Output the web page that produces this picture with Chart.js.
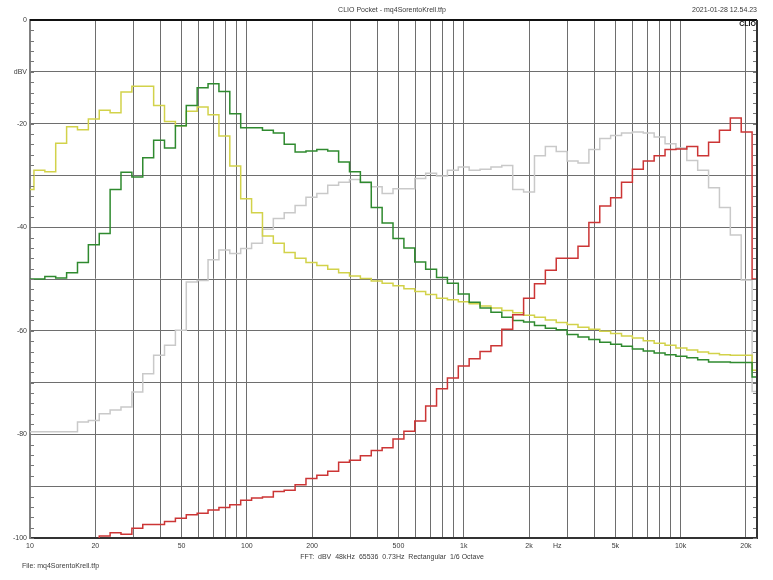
<!DOCTYPE html>
<html><head><meta charset="utf-8">
<script src="https://cdn.jsdelivr.net/npm/chart.js@4/dist/chart.umd.min.js"></script>
<style>html,body{margin:0;padding:0;background:#fff;}#wrap{width:773px;height:580px;}</style>
</head><body><div id="wrap"><canvas id="c" width="773" height="580"></canvas></div>
<script>
// 1/6-octave band centres (Hz)
const bandCentersHz = [9.84,11.05,12.40,13.92,15.63,17.54,19.69,22.10,24.80,27.84,31.25,35.08,39.37,44.19,49.61,55.68,62.50,70.15,78.75,88.39,99.21,111.4,125.0,140.3,157.5,176.8,198.4,222.7,250.0,280.6,315.0,353.6,396.9,445.4,500.0,561.2,630.0,707.1,793.7,890.9,1000,1122,1260,1414,1587,1782,2000,2245,2520,2828,3175,3564,4000,4490,5040,5657,6350,7127,8000,8980,10079,11314,12699,14254,16000,17959,20159,22627];

const yellowDbv = [-32.7,-29.0,-29.3,-23.8,-20.6,-21.2,-19.1,-17.4,-17.9,-13.9,-12.8,-12.8,-16.5,-19.6,-20.4,-17.6,-16.8,-18.3,-22.4,-28.2,-34.5,-37.2,-41.7,-43.1,-44.9,-46.0,-46.8,-47.4,-48.1,-48.8,-49.4,-49.9,-50.4,-50.8,-51.3,-51.9,-52.4,-53.0,-53.7,-54.0,-54.4,-54.8,-55.2,-55.6,-56.1,-56.5,-57.0,-57.4,-57.9,-58.4,-58.8,-59.3,-59.7,-60.1,-60.5,-61.0,-61.4,-61.9,-62.4,-62.8,-63.3,-63.7,-64.1,-64.4,-64.6,-64.7,-64.7,-67.6];

const greenDbv = [-50.0,-50.0,-49.5,-49.8,-48.8,-46.8,-43.4,-41.2,-32.7,-29.4,-30.3,-26.6,-23.2,-24.7,-20.4,-16.5,-13.1,-12.3,-13.8,-18.1,-20.8,-20.8,-21.3,-21.8,-24.0,-25.5,-25.3,-25.0,-25.3,-27.4,-29.3,-31.3,-36.2,-39.2,-42.2,-44.0,-46.7,-48.1,-49.7,-50.8,-52.9,-54.5,-55.6,-56.4,-57.4,-58.0,-58.3,-59.0,-59.5,-59.8,-60.7,-61.2,-61.7,-62.2,-62.6,-63.0,-63.5,-63.9,-64.3,-64.6,-64.9,-65.2,-65.6,-66.0,-66.0,-66.1,-66.1,-68.9];

const grayDbv = [-79.5,-79.5,-79.5,-79.5,-79.5,-77.6,-77.3,-76.0,-75.3,-74.7,-71.8,-68.3,-64.7,-62.8,-59.9,-50.6,-50.3,-46.3,-44.4,-45.1,-44.1,-43.1,-40.4,-38.3,-37.2,-35.8,-34.2,-33.5,-31.9,-31.3,-30.8,-31.4,-32.2,-33.5,-32.6,-32.6,-30.6,-29.6,-30.1,-29.0,-28.4,-29.0,-28.8,-28.4,-28.1,-32.7,-33.2,-26.2,-24.4,-25.4,-27.2,-27.6,-25.0,-22.9,-22.3,-21.8,-21.6,-21.8,-22.6,-23.9,-24.7,-27.1,-29.0,-32.4,-36.2,-41.5,-50.2,-71.7];

const redDbv = [null,null,null,null,null,null,-101.5,-99.6,-99.0,-99.3,-98.1,-97.4,-97.4,-96.8,-96.2,-95.5,-95.2,-94.6,-94.1,-93.6,-92.7,-92.3,-92.1,-91.0,-90.8,-89.7,-88.5,-87.9,-87.1,-85.4,-85.0,-84.1,-83.1,-82.6,-80.9,-79.4,-77.4,-74.5,-71.2,-69.1,-66.8,-65.4,-64.0,-62.9,-59.7,-56.9,-53.7,-50.9,-48.3,-46.0,-46.0,-43.7,-39.1,-35.9,-34.3,-31.3,-28.8,-27.2,-26.2,-25.0,-24.9,-24.4,-26.2,-23.6,-21.3,-18.9,-21.6,-50.0];

const xGridValues = [10,20,30,40,50,60,70,80,90,100,200,300,400,500,600,700,800,900,1000,2000,3000,4000,5000,6000,7000,8000,9000,10000,20000];
const xTickLabels = {10:'10',20:'20',50:'50',100:'100',200:'200',500:'500',1000:'1k',2000:'2k',5000:'5k',10000:'10k',20000:'20k'};
const yTickLabels = {'0':'0','-10':'dBV','-20':'-20','-40':'-40','-60':'-60','-80':'-80','-100':'-100'};

const titleText = 'CLIO Pocket - mq4SorentoKrell.tfp';
const dateText = '2021-01-28 12.54.23';
const brandText = 'CLIO';
const unitText = 'Hz';
const fftText = 'FFT:  dBV  48kHz  65536  0.73Hz  Rectangular  1/6 Octave';
const fileText = 'File: mq4SorentoKrell.tfp';

const FAM = '"Liberation Sans Narrow","Arial Narrow","Liberation Sans",Arial,sans-serif';
const TXT = '#3a3a3a';
const GRID = '#6e6e6e';

function series(vals){ return bandCentersHz.map((f,i)=>({x:f,y:vals[i]})); }

const decor = {
  id:'decor',
  afterDraw(chart){
    const {ctx, chartArea:a, scales:{x,y}} = chart;
    ctx.save();
    // minor ticks every 2 dB, inside, left and right
    ctx.strokeStyle = '#777'; ctx.lineWidth = 1;
    for(let v=0; v>=-100; v-=2){
      const py = Math.round(y.getPixelForValue(v))+0.5;
      ctx.beginPath();
      ctx.moveTo(a.left, py); ctx.lineTo(a.left+4, py);
      ctx.moveTo(a.right, py); ctx.lineTo(a.right-4, py);
      ctx.stroke();
    }
    // top and right borders
    ctx.strokeStyle = '#111'; ctx.lineWidth = 2;
    ctx.beginPath(); ctx.moveTo(a.left, a.top); ctx.lineTo(a.right, a.top); ctx.stroke();
    ctx.strokeStyle = '#333'; ctx.lineWidth = 2;
    ctx.beginPath(); ctx.moveTo(a.right, a.top); ctx.lineTo(a.right, a.bottom); ctx.stroke();
    // texts
    ctx.fillStyle = TXT; ctx.textBaseline = 'middle';
    ctx.font = '7px ' + FAM;
    ctx.textAlign = 'center'; ctx.fillText(titleText, 392, 10);
    ctx.textAlign = 'right'; ctx.fillText(dateText, a.right, 10);
    ctx.textAlign = 'center'; ctx.fillText(fftText, 392, 557);
    ctx.textAlign = 'left'; ctx.fillText(fileText, 22, 566);
    ctx.textAlign = 'center'; ctx.fillText(unitText, x.getPixelForValue(2700), 546);
    ctx.fillStyle = '#111'; ctx.font = 'bold 7px ' + FAM;
    ctx.textAlign = 'right'; ctx.fillText(brandText, a.right-1, 24);
    ctx.restore();
  }
};

new Chart(document.getElementById('c'), {
  type:'line',
  data:{ datasets:[
    {label:'gray', data:series(grayDbv), borderColor:'#c9c9c9', order:4},
    {label:'yellow', data:series(yellowDbv), borderColor:'#d2d24a', order:3},
    {label:'green', data:series(greenDbv), borderColor:'#2f8a2f', order:2},
    {label:'red', data:series(redDbv), borderColor:'#cc3535', order:1}
  ].map(d=>Object.assign(d,{stepped:'middle', pointRadius:0, borderWidth:1.5, fill:false, spanGaps:false}))},
  options:{
    responsive:false, animation:false,
    layout:{padding:{left:0,right:16,top:20,bottom:0}},
    plugins:{legend:{display:false}, tooltip:{enabled:false}},
    scales:{
      x:{type:'logarithmic', min:10, max:22500,
        afterBuildTicks:(s)=>{ s.ticks = xGridValues.map(v=>({value:v})); },
        afterFit:(s)=>{ s.height = 42; },
        ticks:{autoSkip:false, maxRotation:0, padding:4, color:TXT, font:{family:FAM,size:7},
          callback:(v)=> xTickLabels[v] || ''},
        grid:{color:GRID, lineWidth:1, drawTicks:false},
        border:{color:'#333', width:2}
      },
      y:{type:'linear', min:-100, max:0,
        afterFit:(s)=>{ s.width = 30; },
        ticks:{stepSize:10, padding:3, color:TXT, font:{family:FAM,size:7},
          callback:(v)=> (yTickLabels[String(v)] !== undefined ? yTickLabels[String(v)] : '')},
        grid:{color:GRID, lineWidth:1, drawTicks:false},
        border:{color:'#808080', width:2}
      }
    }
  },
  plugins:[decor]
});
</script></body></html>
